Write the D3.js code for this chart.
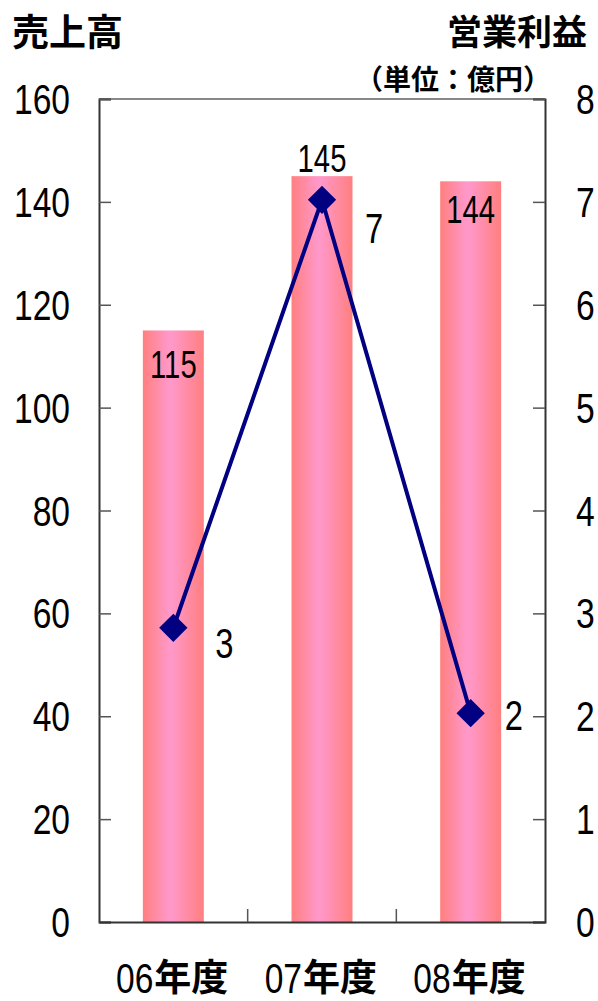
<!DOCTYPE html>
<html><head><meta charset="utf-8">
<script src="https://cdn.jsdelivr.net/npm/d3@7/dist/d3.min.js"></script>
<style>
html,body{margin:0;padding:0;background:#fff;}
svg{display:block;}
</style></head>
<body>
<script>
const categories = ["06", "07", "08"];
const categorySuffix = "年度";
const sales = [115, 145, 144];
const profit = [2.86, 7.02, 2.03];
const profitLabels = ["3", "7", "2"];
const leftTicks = [0, 20, 40, 60, 80, 100, 120, 140, 160];
const rightTicks = [0, 1, 2, 3, 4, 5, 6, 7, 8];
const leftTitle = "売上高";
const rightTitle = "営業利益";
const unitText = "（単位：億円）";

// layout constants (not data)
const barLabelDy = [48, -4, 42];
const lineLabelOff = [[42, 30], [43, 43], [34, 17]];

const W = 598, H = 1001;
const m = {l: 99, r: 545, t: 99, b: 922};
const numFont = "'Liberation Sans',Arial,sans-serif";
const cjkFont = "'Noto Sans CJK JP',sans-serif";
const SX = 0.76;

const svg = d3.select("body").append("svg").attr("width", W).attr("height", H);

// helper: narrow text via horizontal scaling
function narrowText(sel, xf, yf, size, anchor, sx) {
  return sel.attr("x", 0).attr("y", 0)
    .attr("transform", (d, i) => `translate(${xf(d, i)},${yf(d, i)}) scale(${sx || SX},1)`)
    .attr("text-anchor", anchor)
    .attr("font-family", numFont).attr("font-size", size).attr("fill", "#000");
}

const defs = svg.append("defs");
const grad = defs.append("linearGradient").attr("id", "barGrad")
  .attr("x1", "0%").attr("x2", "100%").attr("y1", "0%").attr("y2", "0%");
grad.append("stop").attr("offset", "0%").attr("stop-color", "#ff7f7f");
grad.append("stop").attr("offset", "45%").attr("stop-color", "#ff99cc");
grad.append("stop").attr("offset", "100%").attr("stop-color", "#ff7f7f");

const x = d3.scaleBand().domain(categories).range([m.l, m.r]).padding(0);
const yL = d3.scaleLinear().domain([0, 160]).range([m.b, m.t]);
const yR = d3.scaleLinear().domain([0, 8]).range([m.b, m.t]);
const barW = x.bandwidth() * 0.41;
const cx = c => x(c) + x.bandwidth() / 2;

// top frame line
svg.append("line").attr("x1", m.l).attr("x2", m.r).attr("y1", m.t).attr("y2", m.t)
  .attr("stroke", "#888").attr("stroke-width", 2);

// bars
svg.selectAll("rect.bar").data(sales).join("rect").attr("class", "bar")
  .attr("x", (d, i) => cx(categories[i]) - barW / 2)
  .attr("width", barW)
  .attr("y", d => yL(d))
  .attr("height", d => yL(0) - yL(d))
  .attr("fill", "url(#barGrad)");

// axes
const axL = svg.append("g").attr("transform", `translate(${m.l},0)`)
  .call(d3.axisRight(yL).tickValues(leftTicks).tickSize(12).tickFormat(""));
const axR = svg.append("g").attr("transform", `translate(${m.r},0)`)
  .call(d3.axisLeft(yR).tickValues(rightTicks).tickSize(12).tickFormat(""));
const axB = svg.append("g").attr("transform", `translate(0,${m.b})`)
  .call(d3.axisTop(x).tickSize(0).tickFormat(""));
[axL, axR, axB].forEach(g => {
  g.select(".domain").attr("stroke", "#333").attr("stroke-width", 2);
  g.selectAll(".tick line").attr("stroke", "#555").attr("stroke-width", 1.5);
});
svg.selectAll("line.sep").data(categories.slice(1)).join("line").attr("class", "sep")
  .attr("x1", d => x(d)).attr("x2", d => x(d))
  .attr("y1", m.b).attr("y2", m.b - 13)
  .attr("stroke", "#555").attr("stroke-width", 1.5);

// left tick labels
narrowText(svg.selectAll("text.yl").data(leftTicks).join("text").attr("class", "yl"),
  d => 70, d => yL(d) + 15, 42, "end", 0.8).text(d => d);
// right tick labels
narrowText(svg.selectAll("text.yr").data(rightTicks).join("text").attr("class", "yr"),
  d => 576, d => yR(d) + 15, 42, "start", 0.8).text(d => d);

// category labels
narrowText(svg.selectAll("text.catn").data(categories).join("text").attr("class", "catn"),
  d => cx(d) - 20, d => 993, 43, "end", 0.78).text(d => d);
svg.selectAll("text.catc").data(categories).join("text").attr("class", "catc")
  .attr("x", d => cx(d) - 19).attr("y", 991)
  .attr("font-family", cjkFont).attr("font-size", 37).attr("font-weight", 700)
  .attr("fill", "#000").text(categorySuffix);

// bar labels
narrowText(svg.selectAll("text.bl").data(sales).join("text").attr("class", "bl"),
  (d, i) => cx(categories[i]), (d, i) => yL(d) + barLabelDy[i], 39, "middle", 0.75).text(d => d);

// line
const line = d3.line()
  .x((d, i) => cx(categories[i]))
  .y(d => yR(d));
svg.append("path").datum(profit).attr("d", line)
  .attr("fill", "none").attr("stroke", "#000080").attr("stroke-width", 4);
const sym = d3.symbol().type(d3.symbolSquare).size(400);
svg.selectAll("path.mk").data(profit).join("path").attr("class", "mk")
  .attr("d", sym)
  .attr("transform", (d, i) => `translate(${cx(categories[i])},${yR(d)}) rotate(45)`)
  .attr("fill", "#000080");
narrowText(svg.selectAll("text.pl").data(profit).join("text").attr("class", "pl"),
  (d, i) => cx(categories[i]) + lineLabelOff[i][0],
  (d, i) => yR(d) + lineLabelOff[i][1], 42, "start", 0.78)
  .text((d, i) => profitLabels[i]);

// titles
svg.append("text").attr("x", 12).attr("y", 46)
  .attr("font-family", cjkFont).attr("font-size", 37).attr("font-weight", 700)
  .text(leftTitle);
svg.append("text").attr("x", 587).attr("y", 45).attr("text-anchor", "end")
  .attr("font-family", cjkFont).attr("font-size", 35).attr("font-weight", 700)
  .text(rightTitle);
svg.append("text").attr("x", 551).attr("y", 90).attr("text-anchor", "end")
  .attr("font-family", cjkFont).attr("font-size", 28).attr("font-weight", 700)
  .text(unitText);
</script>
</body></html>
